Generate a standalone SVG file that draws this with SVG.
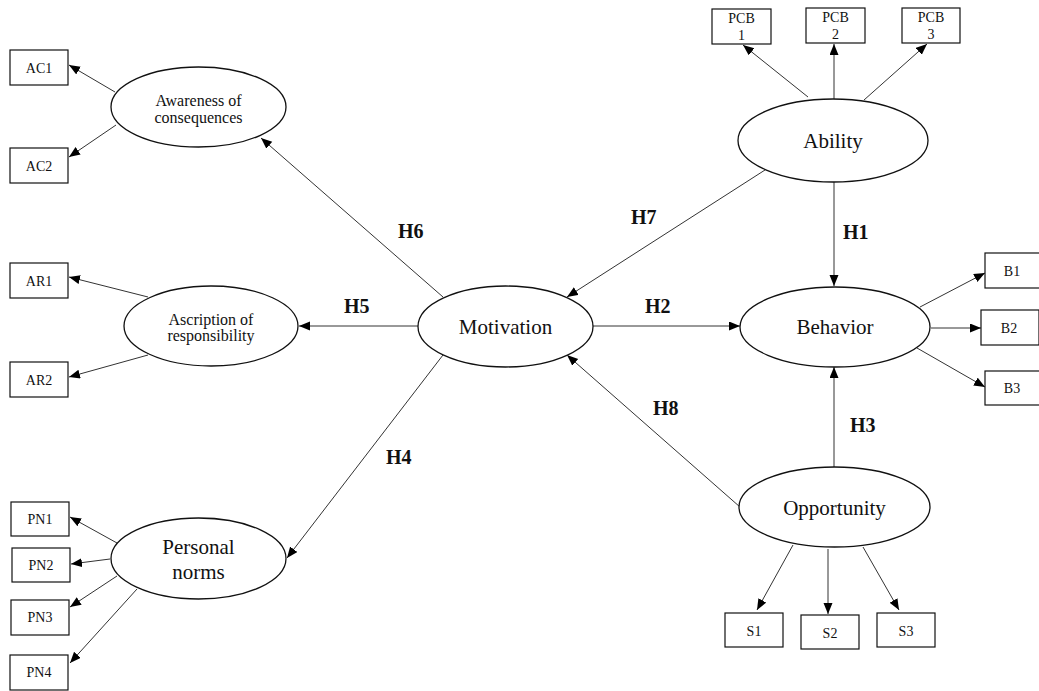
<svg xmlns="http://www.w3.org/2000/svg" width="1039" height="691" viewBox="0 0 1039 691">
<style>
.box{fill:#fff;stroke:#111;stroke-width:1.2}
.ell{fill:#fff;stroke:#111;stroke-width:1.3}
.bt{font-family:"Liberation Serif",serif;font-size:14px;text-anchor:middle;fill:#111}
.mt{font-family:"Liberation Serif",serif;font-size:16px;text-anchor:middle;fill:#111}
.lt{font-family:"Liberation Serif",serif;font-size:21px;text-anchor:middle;fill:#111}
.hl{font-family:"Liberation Serif",serif;font-size:20px;font-weight:bold;fill:#111}
.c{stroke:#333;stroke-width:1;fill:none;marker-end:url(#ah)}
</style>
<defs>
<marker id="ah" markerUnits="userSpaceOnUse" markerWidth="12" markerHeight="10" refX="11" refY="4.5" orient="auto">
<path d="M0,0 L11,4.5 L0,9 z" fill="#000"/>
</marker>
</defs>
<rect width="1039" height="691" fill="#fff"/>
<g id="connectors">
<path class="c" d="M115,92 L69,65"/>
<path class="c" d="M116,125 L69,157"/>
<path class="c" d="M148,297 L69,277"/>
<path class="c" d="M148,355 L69,377"/>
<path class="c" d="M117,543 L70,517"/>
<path class="c" d="M110,559 L71,564"/>
<path class="c" d="M117,576 L70,607"/>
<path class="c" d="M137,589 L70,663"/>
<path class="c" d="M808,97 L743,45"/>
<path class="c" d="M834,99 L834,44"/>
<path class="c" d="M864,100 L927,44"/>
<path class="c" d="M920,307 L985,273"/>
<path class="c" d="M931,328 L981,328"/>
<path class="c" d="M917,348 L985,387"/>
<path class="c" d="M793,545 L757,610"/>
<path class="c" d="M828,549 L828,614"/>
<path class="c" d="M863,547 L899,610"/>
<path class="c" d="M443,297 L261,138"/>
<path class="c" d="M418,326 L299,326"/>
<path class="c" d="M443,355 L287,558"/>
<path class="c" d="M593,326 L740,326"/>
<path class="c" d="M765,170 L567,297"/>
<path class="c" d="M834,182 L834,286"/>
<path class="c" d="M834,467 L834,367"/>
<path class="c" d="M740,507 L567,355"/>
</g>
<g id="labels">
<text class="hl" x="398" y="238">H6</text>
<text class="hl" x="344" y="313">H5</text>
<text class="hl" x="386" y="464">H4</text>
<text class="hl" x="645" y="313">H2</text>
<text class="hl" x="631" y="224">H7</text>
<text class="hl" x="843" y="239">H1</text>
<text class="hl" x="850" y="432">H3</text>
<text class="hl" x="653" y="415">H8</text>
</g>
<g id="awareness"><ellipse class="ell" cx="198.5" cy="107" rx="87.5" ry="40"/><text class="mt" x="198.5" y="106">Awareness of</text><text class="mt" x="198.5" y="123">consequences</text></g>
<g id="ascription"><ellipse class="ell" cx="211" cy="326" rx="87" ry="40"/><text class="mt" x="211" y="325">Ascription of</text><text class="mt" x="211" y="341">responsibility</text></g>
<g id="personal"><ellipse class="ell" cx="198.5" cy="558.5" rx="87.5" ry="40.5"/><text class="lt" x="198.5" y="554">Personal</text><text class="lt" x="198.5" y="579">norms</text></g>
<g id="motivation"><ellipse class="ell" cx="505.5" cy="326.5" rx="87.5" ry="40.5"/><text class="lt" x="505.5" y="334">Motivation</text></g>
<g id="ability"><ellipse class="ell" cx="833" cy="140.5" rx="95" ry="41.5"/><text class="lt" x="833" y="148">Ability</text></g>
<g id="behavior"><ellipse class="ell" cx="835" cy="327" rx="95" ry="40"/><text class="lt" x="835" y="334">Behavior</text></g>
<g id="opportunity"><ellipse class="ell" cx="834.5" cy="507" rx="95.5" ry="40"/><text class="lt" x="834.5" y="515">Opportunity</text></g>
<g id="AC1"><rect class="box" x="10" y="50" width="58" height="35"/><text class="bt" x="39" y="73">AC1</text></g>
<g id="AC2"><rect class="box" x="10" y="148" width="58" height="35"/><text class="bt" x="39" y="171">AC2</text></g>
<g id="AR1"><rect class="box" x="10" y="263" width="58" height="35"/><text class="bt" x="39" y="286">AR1</text></g>
<g id="AR2"><rect class="box" x="10" y="362" width="58" height="35"/><text class="bt" x="39" y="385">AR2</text></g>
<g id="PN1"><rect class="box" x="11" y="502" width="58" height="34"/><text class="bt" x="40" y="524">PN1</text></g>
<g id="PN2"><rect class="box" x="12" y="548" width="58" height="34"/><text class="bt" x="41" y="570">PN2</text></g>
<g id="PN3"><rect class="box" x="11" y="600" width="58" height="35"/><text class="bt" x="40" y="622">PN3</text></g>
<g id="PN4"><rect class="box" x="10" y="655" width="58" height="35"/><text class="bt" x="39" y="677">PN4</text></g>
<g id="PCB1"><rect class="box" x="712" y="9" width="59" height="35"/><text class="bt" x="741.5" y="23">PCB</text><text class="bt" x="741.5" y="40">1</text></g>
<g id="PCB2"><rect class="box" x="806" y="8" width="59" height="35"/><text class="bt" x="835.5" y="22">PCB</text><text class="bt" x="835.5" y="39">2</text></g>
<g id="PCB3"><rect class="box" x="902" y="8" width="58" height="35"/><text class="bt" x="931" y="22">PCB</text><text class="bt" x="931" y="39">3</text></g>
<g id="B1"><rect class="box" x="985" y="253" width="58" height="35"/><text class="bt" x="1012" y="276">B1</text></g>
<g id="B2"><rect class="box" x="981" y="310" width="58" height="35"/><text class="bt" x="1009" y="333">B2</text></g>
<g id="B3"><rect class="box" x="985" y="371" width="58" height="34"/><text class="bt" x="1012" y="393">B3</text></g>
<g id="S1"><rect class="box" x="725" y="613" width="58" height="34"/><text class="bt" x="754" y="636">S1</text></g>
<g id="S2"><rect class="box" x="801" y="615" width="58" height="34"/><text class="bt" x="830" y="638">S2</text></g>
<g id="S3"><rect class="box" x="877" y="613" width="58" height="34"/><text class="bt" x="906" y="636">S3</text></g>
</svg>
